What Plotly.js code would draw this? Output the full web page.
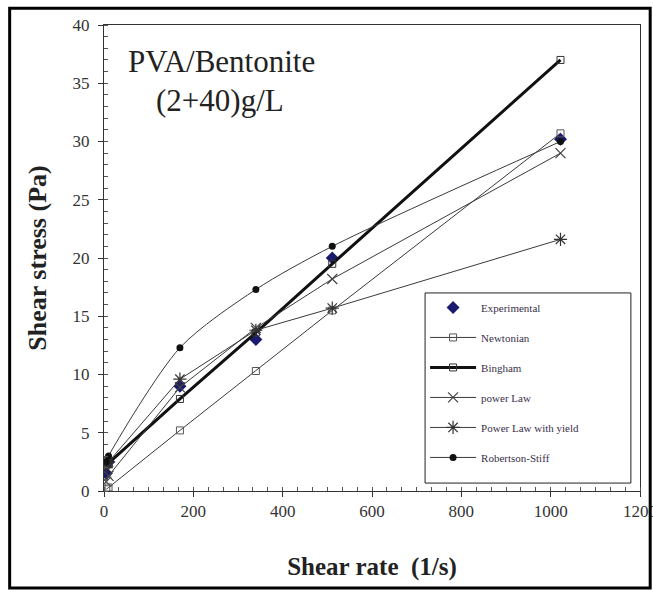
<!DOCTYPE html>
<html>
<head>
<meta charset="utf-8">
<script src="https://cdn.plot.ly/plotly-3.0.1.min.js"></script>
<style>html,body{margin:0;padding:0;background:#fff;}#chart{width:653px;height:594px;}</style>
</head>
<body>
<div id="chart"></div>
<script>
const shearRate = [5.1, 10.2, 170, 340, 511, 1022];
const experimental = [1.5, 2.5, 9.0, 13.0, 20.0, 30.2];
const newtonian = [0.15, 0.3, 5.2, 10.3, 15.5, 30.7];
const bingham = [2.2, 2.4, 7.9, 13.6, 19.5, 37.0];
const powerLaw = [0.8, 1.3, 8.9, 14.0, 18.2, 29.0];
const powerLawYield = [2.0, 2.5, 9.6, 13.8, 15.7, 21.6];
const robertsonStiff = [2.5, 3.0, 12.3, 17.3, 21.0, 30.0];
const xTickVals = [0, 200, 400, 600, 800, 1000, 1200];
const yTickVals = [0, 5, 10, 15, 20, 25, 30, 35, 40];

const serif = 'Liberation Serif, Times New Roman, serif';
const lineCol = '#3a3a3a';

const traces = [
  {name: 'Experimental', x: shearRate, y: experimental, mode: 'markers', legendgroup: 'a',
   marker: {symbol: 'diamond', size: 10, color: '#1a1a6e'}},
  {name: 'Newtonian', x: shearRate, y: newtonian, mode: 'lines+markers', legendgroup: 'b',
   line: {color: lineCol, width: 1}, marker: {symbol: 'square-open', size: 7, color: '#555', line: {width: 1}}},
  {name: 'Bingham', x: shearRate, y: bingham, mode: 'lines+markers', legendgroup: 'c',
   line: {color: '#111', width: 3}, marker: {symbol: 'square-open', size: 7, color: '#333', line: {width: 1}}},
  {name: 'power Law', x: shearRate, y: powerLaw, mode: 'lines+markers', legendgroup: 'd',
   line: {color: lineCol, width: 1}, marker: {symbol: 'x-thin-open', size: 10, color: '#444', line: {width: 1.2, color: '#444'}}},
  {name: 'Power Law with yield', x: shearRate, y: powerLawYield, mode: 'lines+markers', legendgroup: 'e',
   line: {color: lineCol, width: 1}, marker: {symbol: 'asterisk-open', size: 11, color: '#333', line: {width: 1.2, color: '#333'}}},
  {name: 'Robertson-Stiff', x: shearRate, y: robertsonStiff, mode: 'lines+markers', legendgroup: 'f',
   line: {color: lineCol, width: 1, shape: 'spline', smoothing: 0.8}, marker: {symbol: 'circle', size: 7, color: '#111'}}
];

const layout = {
  width: 653, height: 594,
  margin: {l: 104, r: 13, t: 25, b: 103},
  paper_bgcolor: '#fff', plot_bgcolor: '#fff',
  showlegend: true,
  font: {family: serif, color: '#222'},
  xaxis: {
    range: [0, 1200], tickvals: xTickVals, ticktext: xTickVals.map(String),
    showgrid: false, zeroline: false, showline: true, linecolor: '#333', linewidth: 1, mirror: true,
    ticks: 'outside', ticklen: 5, tickcolor: '#333', ticklabeloverflow: 'allow',
    minor: {dtick: 200/6, ticks: 'inside', ticklen: 4, tickcolor: '#555', showgrid: false},
    tickfont: {family: serif, size: 17, color: '#333'},
    title: {text: '<b>Shear rate  (1/s)</b>', font: {family: serif, size: 25, color: '#222'}, standoff: 37}
  },
  yaxis: {
    range: [0, 40], tickvals: yTickVals, ticktext: yTickVals.map(String),
    showgrid: false, zeroline: false, showline: true, linecolor: '#333', linewidth: 1, mirror: true,
    ticks: 'outside', ticklen: 5, tickcolor: '#333', ticklabelstandoff: 5,
    minor: {dtick: 1, ticks: 'inside', ticklen: 4, tickcolor: '#555', showgrid: false},
    tickfont: {family: serif, size: 17, color: '#333'},
    title: {text: '<b>Shear stress (Pa)</b>', font: {family: serif, size: 26, color: '#222'}, standoff: 18}
  },
  legend: {
    x: 0.599, y: 0.425, xanchor: 'left', yanchor: 'top',
    bgcolor: 'rgba(0,0,0,0)', borderwidth: 0,
    font: {family: serif, size: 11, color: '#3a2f4a'},
    traceorder: 'grouped', tracegroupgap: 11, itemwidth: 46
  },
  annotations: [
    {text: 'PVA/Bentonite', xref: 'paper', yref: 'paper', x: 0.22, y: 0.921, xanchor: 'center', yanchor: 'middle',
     showarrow: false, font: {family: serif, size: 31, color: '#222'}},
    {text: '(2+40)g/L', xref: 'paper', yref: 'paper', x: 0.216, y: 0.839, xanchor: 'center', yanchor: 'middle',
     showarrow: false, font: {family: serif, size: 31, color: '#222'}}
  ],
  shapes: [
    {type: 'rect', xref: 'paper', yref: 'paper', x0: 0.599, x1: 0.983, y0: 0.017, y1: 0.425,
     line: {color: '#222', width: 1}, fillcolor: '#fff', layer: 'below'},
    {type: 'rect', xref: 'paper', yref: 'paper', x0: -0.176, x1: 1.019, y0: -0.208, y1: 1.036,
     line: {color: '#000', width: 3}, layer: 'above'}
  ]
};

Plotly.newPlot('chart', traces, layout, {displayModeBar: false, staticPlot: true});
</script>
</body>
</html>
